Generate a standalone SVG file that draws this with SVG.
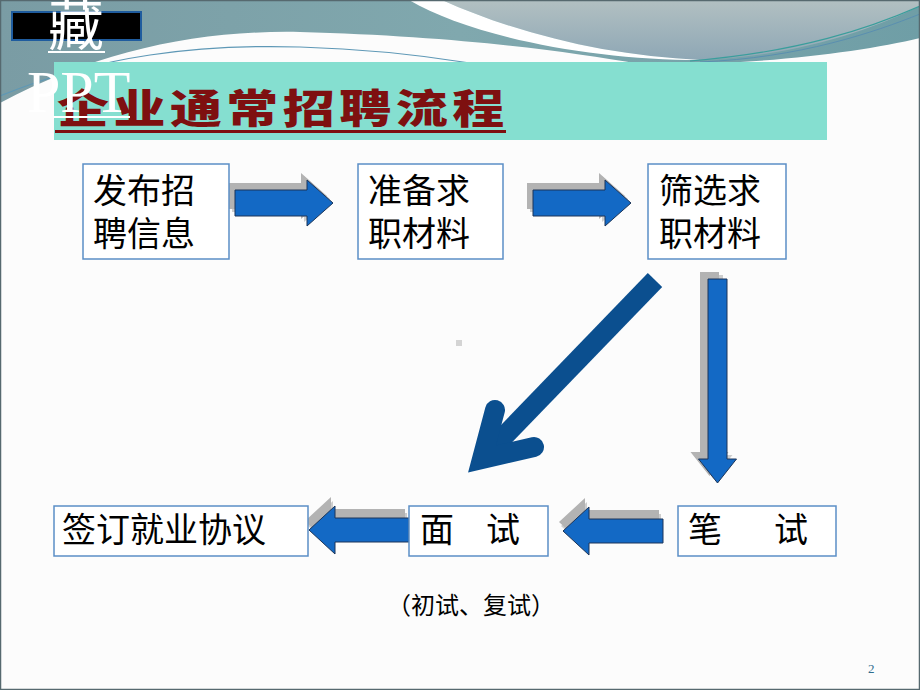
<svg xmlns="http://www.w3.org/2000/svg" width="920" height="690" viewBox="0 0 920 690">
  <defs>
    <linearGradient id="tealG" x1="0" y1="0" x2="1" y2="0">
      <stop offset="0" stop-color="#7a9ca4"/>
      <stop offset="0.5" stop-color="#80a8ae"/>
      <stop offset="1" stop-color="#6f9ea6"/>
    </linearGradient>
    <linearGradient id="lensG" x1="0" y1="0" x2="0" y2="1">
      <stop offset="0" stop-color="#b2c0c2"/>
      <stop offset="1" stop-color="#8ea7b5"/>
    </linearGradient>
    <path id="rArrow" d="M0,-13 H72 V-23 L98,0 L72,23 V13 H0 Z"/>
    <path id="dArrow" d="M0,-9.5 H180 V-19 L204,0 L180,19 V9.5 H0 Z"/>
    <path id="lArrow" d="M0,-12 H-74 V-24 L-100,0 L-74,24 V12 H0 Z"/>
    <style>
      .box { fill: #ffffff; stroke: #5b8ec6; stroke-width: 1.5; }
      .t { font-family: "Noto Sans CJK SC", "Noto Sans CJK JP", sans-serif; font-size: 34px; fill: #000000; }
      .arr { fill: #1369c5; stroke: #1d3558; stroke-width: 1; }
      .sh1 { fill: #b3b3b3; }
      .sh2 { fill: #cdcdcd; }
    </style>
  </defs>

  <!-- background -->
  <rect x="0" y="0" width="920" height="690" fill="#fcfcfc"/>
  <path d="M0,0 H920 V38 C870,50 790,61 700,64 L640,64 C560,50 450,36 300,32 C200,30 100,50 0,103 Z" fill="url(#tealG)"/>
  <path d="M442,0 C520,35 610,56 700,60 C800,56 875,28 920,6 V0 Z" fill="url(#lensG)"/>
  <path d="M409,0 L442,0 C520,35 610,56 700,60 C590,60 470,36 409,0 Z" fill="#ffffff"/>
  <path d="M0,96 C100,55 200,44 300,47 C370,49 420,55 470,63" fill="none" stroke="#5e98b6" stroke-width="1.2"/>
  <path d="M690,61 C800,52 870,28 920,6" fill="none" stroke="#3a9e9c" stroke-width="1.2"/>
  <path d="M700,62 C800,58 875,32 920,14" fill="none" stroke="#5a8fb0" stroke-width="1"/>
  <rect x="0.5" y="0.5" width="919" height="689" fill="none" stroke="#56696f" stroke-width="1.5"/>

  <!-- black box top-left -->
  <rect x="12" y="12" width="129" height="28" fill="#000000" stroke="#1f5c9e" stroke-width="2"/>

  <!-- banner -->
  <rect x="54" y="62" width="773" height="78" fill="#85dfd0"/>
  <text transform="translate(57,123) scale(1.3,1)" x="0" y="0" font-family="Noto Sans CJK SC, sans-serif" font-weight="900" font-size="40" fill="#7e1010" textLength="344" lengthAdjust="spacing">企业通常招聘流程</text>
  <rect x="55" y="130" width="451" height="3" fill="#7e1010"/>

  <!-- watermark texts -->
  <text x="48" y="45" font-family="Noto Sans CJK SC, sans-serif" font-size="56" fill="#ffffff">藏</text>
  <rect x="48" y="51" width="57" height="2" fill="#ffffff"/>
  <text x="27" y="112" font-family="Liberation Serif, serif" font-size="60" fill="#ffffff">PPT</text>
  <rect x="53" y="116" width="77" height="2" fill="#ffffff"/>

  <!-- connectors -->
  <g id="connectors">
    <g transform="translate(235,203)">
      <use href="#rArrow" class="sh2" transform="translate(-3,-4)"/>
      <use href="#rArrow" class="sh1" transform="translate(-6,-7)"/>
      <use href="#rArrow" class="arr"/>
    </g>
    <g transform="translate(533,203)">
      <use href="#rArrow" class="sh2" transform="translate(-3,-4)"/>
      <use href="#rArrow" class="sh1" transform="translate(-6,-7)"/>
      <use href="#rArrow" class="arr"/>
    </g>
    <g>
      <use href="#dArrow" class="sh2" transform="translate(713.5,275) rotate(90)"/>
      <use href="#dArrow" class="sh1" transform="translate(709.5,272) rotate(90)"/>
      <use href="#dArrow" class="arr" transform="translate(717.5,279) rotate(90)"/>
    </g>
    <g>
      <line x1="655" y1="280" x2="484" y2="457" stroke="#0b4f8f" stroke-width="20"/>
      <polyline points="495,410 482,459 534,447" fill="none" stroke="#0b4f8f" stroke-width="20" stroke-linecap="round" stroke-linejoin="miter"/>
    </g>
    <g transform="translate(663,531)">
      <use href="#lArrow" class="sh2" transform="translate(-2,-5)"/>
      <use href="#lArrow" class="sh1" transform="translate(-4,-9)"/>
      <use href="#lArrow" class="arr"/>
    </g>
    <g transform="translate(409,530)">
      <use href="#lArrow" class="sh2" transform="translate(-2,-5)"/>
      <use href="#lArrow" class="sh1" transform="translate(-4,-9)"/>
      <use href="#lArrow" class="arr"/>
    </g>
  </g>

  <!-- nodes -->
  <g id="node-fabu">
    <rect class="box" x="83" y="164" width="146" height="95"/>
    <text class="t" x="93" y="203">发布招</text>
    <text class="t" x="93" y="246">聘信息</text>
  </g>
  <g id="node-zhunbei">
    <rect class="box" x="358" y="164" width="145" height="95"/>
    <text class="t" x="368" y="203">准备求</text>
    <text class="t" x="368" y="246">职材料</text>
  </g>
  <g id="node-shaixuan">
    <rect class="box" x="648" y="164" width="138" height="95"/>
    <text class="t" x="659" y="203">筛选求</text>
    <text class="t" x="659" y="246">职材料</text>
  </g>
  <g id="node-bishi">
    <rect class="box" x="678" y="506" width="158" height="50"/>
    <text class="t" x="688" y="542">笔</text>
    <text class="t" x="774" y="542">试</text>
  </g>
  <g id="node-mianshi">
    <rect class="box" x="409" y="506" width="139" height="50"/>
    <text class="t" x="420" y="542">面</text>
    <text class="t" x="486" y="542">试</text>
  </g>
  <g id="node-qianding">
    <rect class="box" x="54" y="506" width="254" height="50"/>
    <text class="t" x="62" y="542">签订就业协议</text>
  </g>

  <text x="471" y="614" text-anchor="middle" font-family="Noto Sans CJK SC, sans-serif" font-size="24" fill="#000000">（初试、复试）</text>
  <rect x="456" y="340" width="6" height="6" fill="#d4d4d4"/>
  <text x="868" y="673" font-family="Liberation Serif, serif" font-size="13" fill="#2f6d8e">2</text>
</svg>
